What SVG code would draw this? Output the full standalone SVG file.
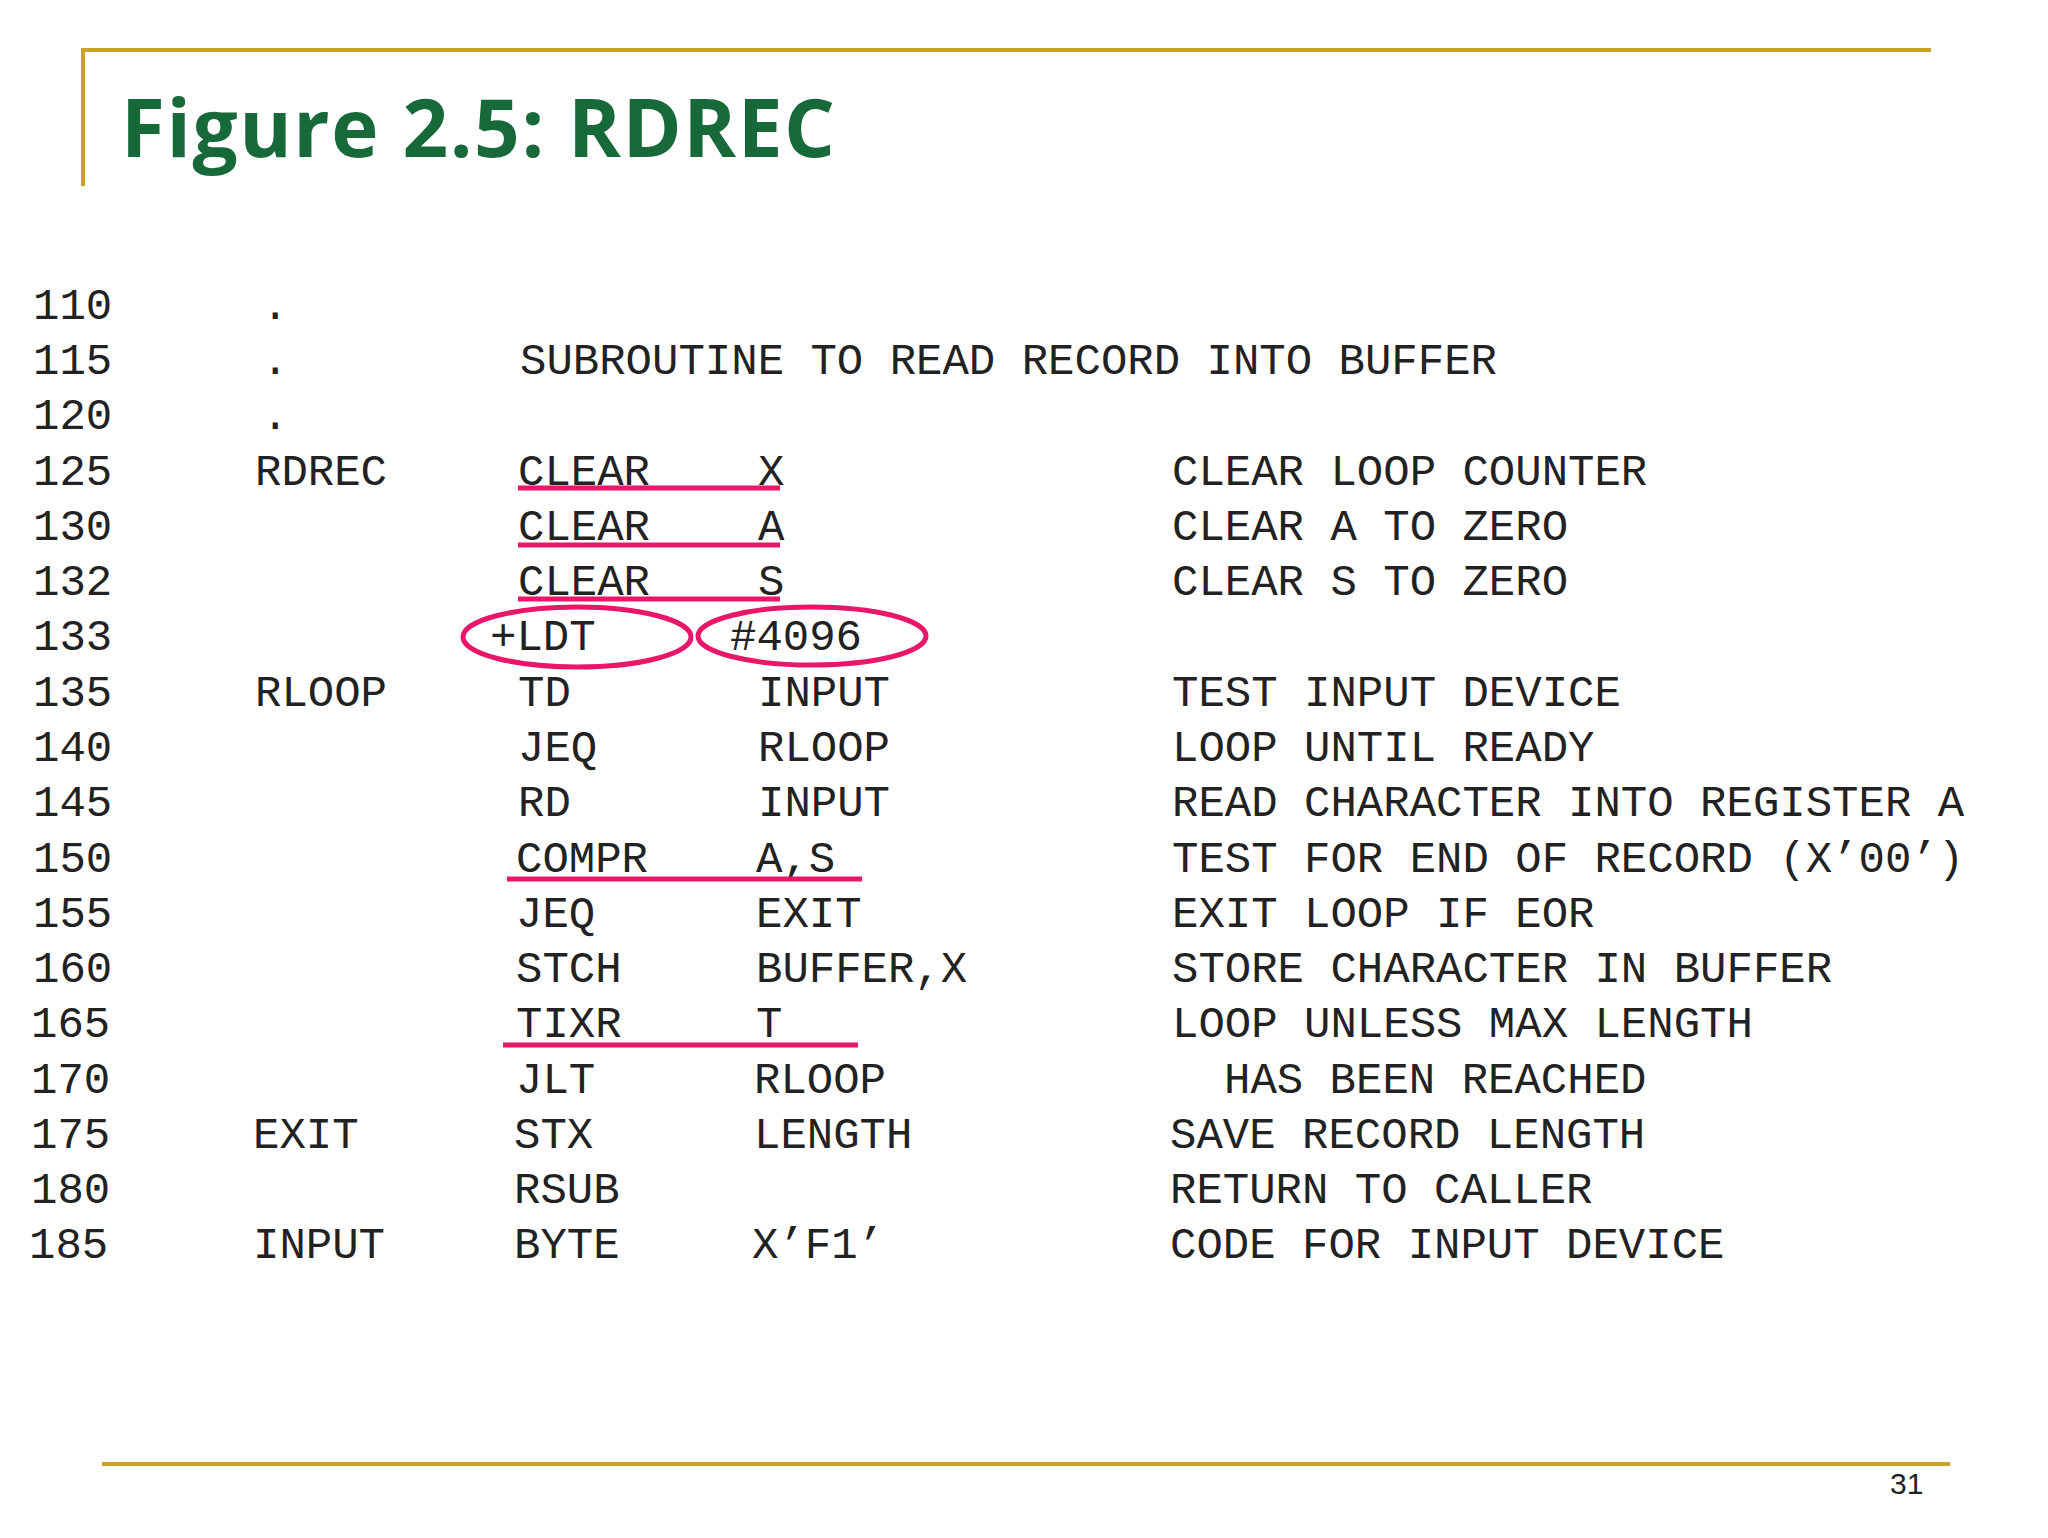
<svg xmlns="http://www.w3.org/2000/svg" width="2048" height="1538" viewBox="0 0 2048 1538">
<style>
.t{font-family:"Liberation Mono","DejaVu Sans Mono",monospace;font-size:44px;fill:#222}
.g{stroke:#c9a227;stroke-width:4;fill:none}
.r{stroke:#e8176a;stroke-width:5;fill:none}
</style>
<rect width="2048" height="1538" fill="#fff"/>
<g id="frame">
<line class="g" x1="81" y1="50" x2="1931" y2="50"/>
<line class="g" x1="83" y1="48" x2="83" y2="186"/>
<line class="g" x1="102" y1="1464" x2="1950" y2="1464"/>
<text x="121" y="157" font-family="'Open Sans','Liberation Sans',sans-serif" font-weight="bold" font-size="80" fill="#17693a" textLength="714" lengthAdjust="spacing">Figure 2.5: RDREC</text>
<text x="1890" y="1494" font-family="'Liberation Sans',sans-serif" font-size="30" fill="#222">31</text>
</g>
<g id="listing" class="t" transform="translate(0,6)">
<text x="33" y="313">110</text><text x="262" y="313">.</text>
<text x="33" y="368">115</text><text x="262" y="368">.</text><text x="520" y="368">SUBROUTINE TO READ RECORD INTO BUFFER</text>
<text x="33" y="423">120</text><text x="262" y="423">.</text>
<text x="33" y="479">125</text><text x="255" y="479">RDREC</text><text x="518" y="479">CLEAR</text><text x="758" y="479">X</text><text x="1172" y="479">CLEAR LOOP COUNTER</text>
<text x="33" y="534">130</text><text x="518" y="534">CLEAR</text><text x="758" y="534">A</text><text x="1172" y="534">CLEAR A TO ZERO</text>
<text x="33" y="589">132</text><text x="518" y="589">CLEAR</text><text x="758" y="589">S</text><text x="1172" y="589">CLEAR S TO ZERO</text>
<text x="33" y="644">133</text><text x="490" y="644">+LDT</text><text x="730" y="644">#4096</text>
<text x="33" y="700">135</text><text x="255" y="700">RLOOP</text><text x="518" y="700">TD</text><text x="758" y="700">INPUT</text><text x="1172" y="700">TEST INPUT DEVICE</text>
<text x="33" y="755">140</text><text x="518" y="755">JEQ</text><text x="758" y="755">RLOOP</text><text x="1172" y="755">LOOP UNTIL READY</text>
<text x="33" y="810">145</text><text x="518" y="810">RD</text><text x="758" y="810">INPUT</text><text x="1172" y="810">READ CHARACTER INTO REGISTER A</text>
<text x="33" y="866">150</text><text x="516" y="866">COMPR</text><text x="756" y="866">A,S</text><text x="1172" y="866">TEST FOR END OF RECORD (X’00’)</text>
<text x="33" y="921">155</text><text x="516" y="921">JEQ</text><text x="756" y="921">EXIT</text><text x="1172" y="921">EXIT LOOP IF EOR</text>
<text x="33" y="976">160</text><text x="516" y="976">STCH</text><text x="756" y="976">BUFFER,X</text><text x="1172" y="976">STORE CHARACTER IN BUFFER</text>
<text x="31" y="1031">165</text><text x="516" y="1031">TIXR</text><text x="756" y="1031">T</text><text x="1172" y="1031">LOOP UNLESS MAX LENGTH</text>
<text x="31" y="1087">170</text><text x="516" y="1087">JLT</text><text x="754" y="1087">RLOOP</text><text x="1224" y="1087">HAS BEEN REACHED</text>
<text x="31" y="1142">175</text><text x="253" y="1142">EXIT</text><text x="514" y="1142">STX</text><text x="754" y="1142">LENGTH</text><text x="1170" y="1142">SAVE RECORD LENGTH</text>
<text x="31" y="1197">180</text><text x="514" y="1197">RSUB</text><text x="1170" y="1197">RETURN TO CALLER</text>
<text x="29" y="1252">185</text><text x="253" y="1252">INPUT</text><text x="514" y="1252">BYTE</text><text x="752" y="1252">X’F1’</text><text x="1170" y="1252">CODE FOR INPUT DEVICE</text>
</g>
<g id="marks">
<line class="r" x1="518" y1="488" x2="780" y2="488"/>
<line class="r" x1="518" y1="545" x2="780" y2="545"/>
<line class="r" x1="518" y1="599" x2="780" y2="599"/>
<line class="r" x1="507" y1="879" x2="862" y2="879"/>
<line class="r" x1="503" y1="1045" x2="858" y2="1045"/>
<ellipse class="r" cx="577" cy="637" rx="114" ry="30"/>
<ellipse class="r" cx="812" cy="636" rx="114" ry="29"/>
</g>
</svg>
